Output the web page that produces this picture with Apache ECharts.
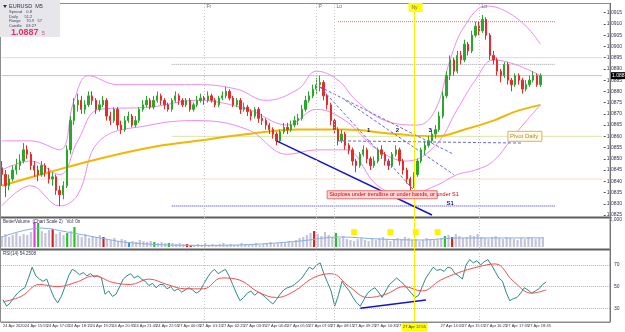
<!DOCTYPE html>
<html>
<head>
<meta charset="utf-8">
<script src="https://cdn.jsdelivr.net/npm/echarts@6/dist/echarts.min.js"></script>
<style>
  html, body { margin: 0; padding: 0; background: #fff; }
  #chart { width: 625px; height: 332px; }
</style>
</head>
<body>
<div id="chart"></div>
<script>
// ---- data (EURUSD M5) ----
var timeLabels = ['24 Apr 2020', '24 Apr 15:55', '24 Apr 17:05', '24 Apr 18:15', '24 Apr 19:25',
  '24 Apr 20:35', '24 Apr 21:45', '24 Apr 22:55', '27 Apr 00:05', '27 Apr 01:15', '27 Apr 02:25',
  '27 Apr 03:35', '27 Apr 04:45', '27 Apr 05:55', '27 Apr 07:05', '27 Apr 08:15', '27 Apr 09:25',
  '27 Apr 10:35', '27 Apr 11:45', '27 Apr 12:55', '27 Apr 14:05', '27 Apr 15:15', '27 Apr 16:25',
  '27 Apr 17:35', '27 Apr 18:45'];
var nyLabel = '27 Apr 12:55';
var labelEvery = 6;          // bars between time labels
var slotCount = 167;         // bars that fit the window (incl. right shift)

// [open, close, low, high]
var candles = [
  [1.0846,1.0843,1.0838,1.0849],[1.0843,1.0838,1.0833,1.0845],[1.0838,1.0841,1.0836,1.0843],[1.0841,1.0845,1.0840,1.0847],
  [1.0845,1.0847,1.0843,1.0850],[1.0847,1.0849,1.0845,1.0852],[1.0849,1.0854,1.0848,1.0857],[1.0854,1.0852,1.0850,1.0856],
  [1.0852,1.0847,1.0845,1.0853],[1.0847,1.0845,1.0842,1.0849],[1.0845,1.0843,1.0840,1.0847],[1.0843,1.0847,1.0842,1.0849],
  [1.0847,1.0844,1.0842,1.0848],[1.0844,1.0841,1.0839,1.0846],[1.0841,1.0842,1.0838,1.0844],[1.0842,1.0836,1.0834,1.0843],
  [1.0836,1.0834,1.0829,1.0838],[1.0834,1.0838,1.0832,1.0840],[1.0838,1.0854,1.0837,1.0856],[1.0854,1.0867,1.0852,1.0869],
  [1.0867,1.0874,1.0865,1.0877],[1.0874,1.0876,1.0871,1.0879],[1.0876,1.0872,1.0870,1.0878],[1.0872,1.0874,1.0870,1.0876],
  [1.0874,1.0878,1.0873,1.0880],[1.0878,1.0876,1.0874,1.0880],[1.0876,1.0872,1.0870,1.0877],[1.0872,1.0874,1.0871,1.0876],
  [1.0874,1.0876,1.0873,1.0878],[1.0876,1.0869,1.0867,1.0877],[1.0869,1.0867,1.0865,1.0871],[1.0867,1.0872,1.0866,1.0873],
  [1.0872,1.0865,1.0863,1.0873],[1.0865,1.0863,1.0861,1.0867],[1.0863,1.0867,1.0862,1.0869],[1.0867,1.0869,1.0866,1.0871],
  [1.0869,1.0865,1.0864,1.0870],[1.0865,1.0867,1.0864,1.0869],[1.0867,1.0872,1.0866,1.0873],[1.0872,1.0874,1.0871,1.0876],
  [1.0874,1.0876,1.0873,1.0878],[1.0876,1.0873,1.0872,1.0877],[1.0873,1.0876,1.0872,1.0878],[1.0876,1.0878,1.0875,1.0880],
  [1.0878,1.0876,1.0874,1.0879],[1.0876,1.0874,1.0872,1.0877],[1.0874,1.0872,1.0871,1.0875],[1.0872,1.0876,1.0871,1.0877],
  [1.0876,1.0878,1.0875,1.0880],[1.0878,1.0876,1.0874,1.0879],[1.0876,1.0874,1.0873,1.0877],[1.0874,1.0876,1.0873,1.0877],
  [1.0876,1.0872,1.0871,1.0877],[1.0872,1.0874,1.0871,1.0875],[1.0874,1.0876,1.0873,1.0878],[1.0876,1.0877,1.0875,1.0879],
  [1.0877,1.0876,1.0874,1.0878],[1.0876,1.0878,1.0875,1.0880],[1.0878,1.0876,1.0875,1.0879],[1.0876,1.0874,1.0873,1.0877],
  [1.0874,1.0877,1.0873,1.0878],[1.0877,1.0878,1.0876,1.0880],[1.0878,1.0880,1.0877,1.0882],[1.0880,1.0877,1.0876,1.0881],
  [1.0877,1.0874,1.0873,1.0878],[1.0874,1.0876,1.0873,1.0877],[1.0876,1.0872,1.0870,1.0877],[1.0872,1.0873,1.0871,1.0875],
  [1.0873,1.0871,1.0869,1.0874],[1.0871,1.0869,1.0867,1.0872],[1.0869,1.0872,1.0868,1.0873],[1.0872,1.0868,1.0866,1.0873],
  [1.0868,1.0867,1.0865,1.0870],[1.0867,1.0865,1.0863,1.0868],[1.0865,1.0863,1.0861,1.0866],[1.0863,1.0861,1.0859,1.0864],
  [1.0861,1.0858,1.0856,1.0862],[1.0858,1.0862,1.0857,1.0863],[1.0862,1.0864,1.0861,1.0866],[1.0864,1.0863,1.0861,1.0866],
  [1.0863,1.0865,1.0862,1.0867],[1.0865,1.0867,1.0864,1.0869],[1.0867,1.0868,1.0865,1.0870],[1.0868,1.0872,1.0867,1.0874],
  [1.0872,1.0876,1.0871,1.0878],[1.0876,1.0878,1.0875,1.0880],[1.0878,1.0881,1.0877,1.0883],[1.0881,1.0883,1.0879,1.0886],
  [1.0883,1.0884,1.0880,1.0887],[1.0884,1.0878,1.0876,1.0885],[1.0878,1.0874,1.0872,1.0879],[1.0874,1.0867,1.0865,1.0875],
  [1.0867,1.0863,1.0861,1.0868],[1.0863,1.0858,1.0856,1.0864],[1.0858,1.0861,1.0857,1.0863],[1.0861,1.0856,1.0854,1.0862],
  [1.0856,1.0854,1.0852,1.0857],[1.0854,1.0849,1.0847,1.0855],[1.0849,1.0847,1.0844,1.0850],[1.0847,1.0852,1.0846,1.0853],
  [1.0852,1.0854,1.0851,1.0856],[1.0854,1.0850,1.0848,1.0855],[1.0850,1.0847,1.0845,1.0851],[1.0847,1.0849,1.0846,1.0851],
  [1.0849,1.0854,1.0848,1.0855],[1.0854,1.0852,1.0850,1.0856],[1.0852,1.0849,1.0847,1.0853],[1.0849,1.0847,1.0845,1.0850],
  [1.0847,1.0852,1.0846,1.0853],[1.0852,1.0854,1.0851,1.0856],[1.0854,1.0849,1.0847,1.0855],[1.0849,1.0845,1.0843,1.0850],
  [1.0845,1.0841,1.0839,1.0846],[1.0841,1.0838,1.0836,1.0842],[1.0838,1.0843,1.0837,1.0844],[1.0843,1.0849,1.0842,1.0850],
  [1.0849,1.0854,1.0848,1.0855],[1.0854,1.0856,1.0852,1.0858],[1.0856,1.0858,1.0855,1.0860],[1.0858,1.0861,1.0857,1.0863],
  [1.0861,1.0863,1.0859,1.0865],[1.0863,1.0869,1.0862,1.0871],[1.0869,1.0878,1.0868,1.0880],[1.0878,1.0887,1.0877,1.0889],
  [1.0887,1.0894,1.0885,1.0896],[1.0894,1.0889,1.0887,1.0895],[1.0889,1.0896,1.0888,1.0898],[1.0896,1.0894,1.0892,1.0898],
  [1.0894,1.0901,1.0893,1.0903],[1.0901,1.0898,1.0896,1.0902],[1.0898,1.0905,1.0897,1.0907],[1.0905,1.0909,1.0904,1.0911],
  [1.0909,1.0907,1.0905,1.0911],[1.0907,1.0912,1.0906,1.0914],[1.0912,1.0905,1.0903,1.0913],[1.0905,1.0896,1.0894,1.0906],
  [1.0896,1.0894,1.0892,1.0898],[1.0894,1.0889,1.0887,1.0895],[1.0889,1.0887,1.0884,1.0890],[1.0887,1.0892,1.0886,1.0893],
  [1.0892,1.0885,1.0883,1.0893],[1.0885,1.0883,1.0880,1.0886],[1.0883,1.0887,1.0882,1.0888],[1.0887,1.0885,1.0883,1.0888],
  [1.0885,1.0881,1.0879,1.0886],[1.0881,1.0883,1.0880,1.0885],[1.0883,1.0885,1.0882,1.0887],[1.0885,1.0887,1.0884,1.0889],
  [1.0887,1.0883,1.0882,1.0888],[1.0883,1.0887,1.0882,1.0888]
];

// moving average + bollinger bands, read at sample bars [bar, price]
var maLine = [[0,1.0838],[13,1.0844],[27,1.0850],[41,1.0855],[54,1.0858],[68,1.0861],[82,1.0863],
  [95,1.0863],[109,1.0861],[120,1.0860],[128,1.0863],[136,1.0867],[142,1.0871],[149,1.0874]];
var bbUpper = [[0,1.0858],[8,1.0858],[16,1.0854],[20,1.0876],[24,1.0887],[32,1.0883],[41,1.0883],
  [54,1.0883],[65,1.0881],[73,1.0876],[82,1.0881],[87,1.0889],[93,1.0885],[98,1.0876],[106,1.0867],
  [115,1.0865],[120,1.0872],[124,1.0894],[128,1.0909],[134,1.0918],[139,1.0916],[145,1.0909],[149,1.0901]];
var bbMid = [[0,1.0845],[8,1.0849],[16,1.0843],[21,1.0858],[27,1.0872],[41,1.0873],[54,1.0876],
  [68,1.0872],[79,1.0865],[87,1.0872],[95,1.0867],[104,1.0854],[112,1.0849],[120,1.0856],[126,1.0872],
  [131,1.0885],[136,1.0894],[142,1.0892],[149,1.0887]];
var bbLower = [[0,1.0829],[8,1.0838],[16,1.0829],[21,1.0834],[27,1.0858],[41,1.0865],[54,1.0867],
  [68,1.0863],[79,1.0852],[87,1.0854],[95,1.0854],[104,1.0838],[112,1.0834],[120,1.0838],[126,1.0843],
  [131,1.0845],[136,1.0849],[142,1.0861],[149,1.0874]];

var volumes = [810,960,740,890,1040,810,960,890,1110,1850,1780,1180,1040,1260,1330,960,1110,890,1040,1180,
  1480,890,740,960,670,810,740,890,740,590,520,670,440,590,520,370,440,370,520,440,
  370,440,370,300,370,300,300,300,220,300,220,220,150,150,220,150,300,150,220,150,
  220,300,150,220,150,150,300,220,150,220,300,150,220,300,370,220,300,370,300,440,
  370,520,670,740,890,1040,1180,960,810,1110,890,740,1040,670,810,590,520,440,590,670,
  520,440,590,520,670,740,590,440,520,670,590,740,670,520,590,440,520,670,590,520,
  590,670,810,890,740,960,810,670,740,890,810,960,740,670,590,740,810,670,590,740,
  670,590,520,670,590,740,670,590,670,740];
var volFlags = { 9: 'climax', 10: 'up', 14: 'down', 18: 'up', 20: 'up', 28: 'down', 35: 'low',
  42: 'up', 46: 'up', 51: 'down', 52: 'down', 86: 'down', 92: 'up', 122: 'up', 124: 'down' };
var volAverage = [[0,740],[11,1400],[18,1110],[27,670],[36,300],[54,120],[68,180],[82,440],[93,740],
  [104,590],[115,520],[126,670],[136,670],[149,680]];
var volMarks = [97, 107, 114, 120];

var rsi = [38,32,35,40,44,47,49,58,68,60, 57,55,57,48,40,35,41,50,60,66,
  64,61,63,60,62,59,60,58,43,46, 41,43,50,57,60,62,58,60,57,55,
  51,53,49,52,52,48,50,46,48,45, 47,49,47,44,46,52,58,63,66,62,
  64,66,60,52,44,37,40,44,46,42, 45,43,40,37,34,38,43,47,49,50,
  52,55,58,63,68,66,70,72,62,54, 46,32,42,55,50,46,40,35,32,38,
  44,47,49,45,40,46,52,55,58,55, 52,48,44,40,42,50,58,63,68,65,
  66,64,68,67,62,60,57,70,75,72, 74,70,73,75,70,64,58,55,45,37,
  39,40,44,49,47,44,46,48,52,54.2508];
var rsiSignal = [[0,36],[5,41],[10,52],[15,50],[20,54],[25,60],[30,54],[35,52],[40,57],[45,52],[50,48],
  [55,48],[60,58],[65,56],[70,45],[75,40],[80,46],[85,58],[90,62],[95,50],[100,40],[105,43],[110,50],
  [115,46],[120,56],[125,63],[130,68],[135,71],[140,55],[145,44],[149,47]];
var rsiTrend = [[98,30],[116,37.6]];

// drawn objects on the price pane
var lastPrice = 1.0887;
var levelR2 = { from: 93, to: 153, price: 1.0911 };
var levelR1 = { from: 47, to: 153, price: 1.0892 };
var levelPivot = { from: 47, to: 166, price: 1.0860 };
var levelS1 = { from: 47, to: 153, price: 1.0829 };
var levelFaintHi = 1.0895;
var levelFaintLo = 1.0841;
var trendMain = [[76,1.0858],[119,1.0825]];
var fanA = [[88,1.0882],[114,1.0836]];
var fanB = [[88,1.0882],[125,1.0852]];
var fanC = [[95,1.0876],[125,1.0843]];
var fanFlat = [[93,1.0858],[144,1.0857]];
var waveMarks = [{ bar: 101, price: 1.0862, text: '1' }, { bar: 109, price: 1.0862, text: '2' }, { bar: 118, price: 1.0862, text: '3' }];
var sessions = [{ bar: 56, text: 'Fr' }, { bar: 87, text: 'P' }, { bar: 92, text: 'Lo' }, { bar: 132, text: 'Lo' }];
var nyBar = 114;

var FONT = '"Liberation Sans", Arial, sans-serif';
var NARROW = '"Liberation Sans Narrow", "Liberation Sans", sans-serif';
var cats = [];
for (var i = 0; i < slotCount; i++) cats.push(String(i));

function levelLine(price, from, to) {
    return [[from, price], [to, price]];
}

function segment(points, color, width, type, z) {
    return {
        type: 'line', xAxisIndex: 0, yAxisIndex: 0, data: points, symbol: 'none', silent: true,
        clip: false, z: z || 3,
        lineStyle: { color: color, width: width, type: type || 'solid' }
    };
}

var volColor = { climax: '#e23de2', up: '#22c422', down: '#d81c1c', low: '#3a8ee6' };

var option = {
    animation: false,
    backgroundColor: '#ffffff',
    grid: [
        { left: 0, top: 12.7, width: 610, height: 202.3 },
        { left: 0, top: 220, width: 610, height: 27 },
        { left: 0, top: 265, width: 610, height: 43.3 }
    ],
    xAxis: [
        { type: 'category', gridIndex: 0, data: cats, show: false },
        { type: 'category', gridIndex: 1, data: cats, show: false },
        {
            type: 'category', gridIndex: 2, data: cats, offset: 13.7,
            axisLine: { lineStyle: { color: '#8c8c8c' } },
            axisTick: { interval: labelEvery - 1, length: 2, lineStyle: { color: '#555' } },
            axisLabel: {
                interval: labelEvery - 1, align: 'left', margin: 2, fontSize: 4,
                fontFamily: NARROW, color: '#303040',
                formatter: function (v, idx) {
                    if (idx === nyBar) return '';
                    return timeLabels[idx / labelEvery] || '';
                }
            }
        }
    ],
    yAxis: [
        {
            type: 'value', gridIndex: 0, position: 'right', min: 1.0825, max: 1.0915, interval: 0.0005,
            axisLine: { show: false }, splitLine: { show: false },
            axisTick: { show: true, length: 2, lineStyle: { color: '#555' } },
            axisLabel: { fontSize: 5, fontFamily: FONT, color: '#303050', margin: 3,
                formatter: function (v) { return v.toFixed(4); } }
        },
        {
            type: 'value', gridIndex: 1, position: 'right', min: 0, max: 2000, interval: 2000,
            axisLine: { show: false }, splitLine: { show: false }, axisTick: { show: false },
            axisLabel: { fontSize: 5, fontFamily: FONT, color: '#303050', margin: 3, showMinLabel: false }
        },
        {
            type: 'value', gridIndex: 2, position: 'right', min: 30, max: 70, interval: 20,
            axisLine: { show: false }, axisTick: { show: false },
            splitLine: { lineStyle: { color: '#b4b4b4', type: 'dotted' } },
            axisLabel: { fontSize: 5, fontFamily: FONT, color: '#303050', margin: 4 }
        }
    ],
    series: [
        segment(levelLine(levelFaintHi, 0, 166), '#d6dcf2', 1, 'solid', 1),
        segment(levelLine(levelFaintLo, 0, 166), '#f4dcc0', 1, 'solid', 1),
        segment(levelLine(levelPivot.price, levelPivot.from, levelPivot.to), '#d8e6a6', 1, 'solid', 1),
        segment(levelLine(lastPrice, 0, 166), '#c4c4c4', 1, 'solid', 1),
        segment(levelLine(levelR2.price, levelR2.from, levelR2.to), '#e07070', 1, 'dotted', 2),
        segment(levelLine(levelR1.price, levelR1.from, levelR1.to), '#a0a0a8', 1, 'dotted', 2),
        segment(levelLine(levelS1.price, levelS1.from, levelS1.to), '#3030c8', 1, 'dotted', 2),
        { type: 'line', xAxisIndex: 0, yAxisIndex: 0, data: bbUpper, smooth: 0.4, symbol: 'none', clip: false,
          lineStyle: { color: '#ec8cec', width: 1 }, z: 2 },
        { type: 'line', xAxisIndex: 0, yAxisIndex: 0, data: bbMid, smooth: 0.4, symbol: 'none', clip: false,
          lineStyle: { color: '#ec8cec', width: 1 }, z: 2 },
        { type: 'line', xAxisIndex: 0, yAxisIndex: 0, data: bbLower, smooth: 0.4, symbol: 'none', clip: false,
          lineStyle: { color: '#ec8cec', width: 1 }, z: 2 },
        { type: 'line', xAxisIndex: 0, yAxisIndex: 0, data: maLine, smooth: 0.4, symbol: 'none', clip: false,
          lineStyle: { color: '#f2b705', width: 2 }, z: 3 },
        {
            type: 'candlestick', xAxisIndex: 0, yAxisIndex: 0, data: candles, barWidth: '50%', z: 4,
            itemStyle: { color: '#2aa82a', color0: '#e82a2a', borderColor: '#2aa82a', borderColor0: '#e82a2a', borderWidth: 1 }
        },
        segment(trendMain, '#1414d2', 1.5, 'solid', 5),
        segment(fanA, '#6a6ad8', 1, [3, 2], 5),
        segment(fanB, '#6a6ad8', 1, [3, 2], 5),
        segment(fanC, '#6a6ad8', 1, [3, 2], 5),
        segment(fanFlat, '#6a6ad8', 1, [3, 2], 5),
        {
            type: 'bar', xAxisIndex: 1, yAxisIndex: 1, barWidth: '60%', silent: true,
            data: volumes.map(function (v, i) {
                var f = volFlags[i];
                return { value: v, itemStyle: { color: f ? volColor[f] : '#c3c3dc' } };
            })
        },
        { type: 'line', xAxisIndex: 1, yAxisIndex: 1, data: volAverage, smooth: 0.4, symbol: 'none',
          lineStyle: { color: '#86aee0', width: 1 }, z: 3 },
        { type: 'line', xAxisIndex: 2, yAxisIndex: 2, data: rsi, symbol: 'none', clip: false,
          lineStyle: { color: '#2e8a86', width: 1 }, z: 3 },
        { type: 'line', xAxisIndex: 2, yAxisIndex: 2, data: rsiSignal, smooth: 0.4, symbol: 'none', clip: false,
          lineStyle: { color: '#f25050', width: 1 }, z: 3 },
        { type: 'line', xAxisIndex: 2, yAxisIndex: 2, data: rsiTrend, symbol: 'none', clip: false,
          lineStyle: { color: '#1414d2', width: 1.5 }, z: 4 }
    ]
};

var chart = echarts.init(document.getElementById('chart'));
chart.setOption(option);

// ---- overlay: frame, session markers, text objects (placed through the axes) ----
function P(grid, a, b) { return chart.convertToPixel({ gridIndex: grid }, [a, b]); }
function txt(x, y, s, size, color, extra) {
    var st = { text: s, x: x, y: y, fill: color,
        font: (extra && extra.bold ? 'bold ' : '') + size + 'px ' + ((extra && extra.family) || FONT) };
    if (extra && extra.align) st.align = extra.align;
    return { type: 'text', style: st, z: 60, silent: true };
}
function rect(x, y, w, h, fill, stroke) {
    return { type: 'rect', shape: { x: x, y: y, width: w, height: h }, style: { fill: fill, stroke: stroke || null, lineWidth: 1 }, z: 55, silent: true };
}
function line(x1, y1, x2, y2, color, width, dash) {
    return { type: 'line', shape: { x1: x1, y1: y1, x2: x2, y2: y2 }, style: { stroke: color, lineWidth: width, lineDash: dash || null }, z: 40, silent: true };
}

var g = [];
// pane frame
g.push({ type: 'rect', shape: { x: 0.5, y: 3.5, width: 609.5, height: 318.5 }, style: { fill: 'none', stroke: '#8c8c8c', lineWidth: 1 }, z: 50, silent: true });
g.push(line(0, 217.5, 610, 217.5, '#5e5e5e', 2));
g.push(line(0, 249.5, 610, 249.5, '#5e5e5e', 2));
g.push(line(610.5, 3, 610.5, 322, '#5e5e5e', 1));

// session markers
sessions.forEach(function (s) {
    var x = Math.round(P(0, s.bar, 1.087)[0]) + 0.5;
    g.push(line(x, 4, x, 321, '#c6c6c6', 1, [1, 2]));
    g.push(txt(x + 2, 4, s.text, 5, '#6a6a80'));
});
var nyX = Math.round(P(0, nyBar, 1.087)[0]) + 0.5;
g.push(line(nyX, 4, nyX, 321, '#f4f000', 1));
g.push(rect(nyX - 6, 3, 14, 9, '#ffff00'));
g.push(txt(nyX - 3, 5, 'Ny', 5, '#6a6a80'));
// time tag of the NY line, centred on it over the axis
g.push(rect(nyX - 13, 323, 26, 8, '#ffff00'));
g.push(txt(nyX, 325, nyLabel, 4, '#303040', { align: 'center', family: NARROW }));

// current price tag on the axis
var lpY = P(0, 0, lastPrice)[1];
g.push(rect(611, lpY - 3.5, 14, 7, '#000000'));
g.push(txt(612, lpY - 2.5, lastPrice.toFixed(4), 5, '#ffffff'));

// pivot tag
var pv = P(0, 140, levelPivot.price);
g.push(rect(pv[0], pv[1] - 5, 34, 10, '#fffbe4', '#d4b46a'));
g.push(txt(pv[0] + 2, pv[1] - 3, 'Pivot Daily', 6, '#a58a4a'));

// wave numbers and S1
waveMarks.forEach(function (w) {
    var p = P(0, w.bar, w.price);
    g.push(txt(p[0], p[1] - 4, w.text, 6, '#101060', { bold: true }));
});
var s1 = P(0, 123, levelS1.price);
g.push(txt(s1[0], s1[1] - 6, 'S1', 6, '#1a1a80', { bold: true }));

// stoploss note
var sl = P(0, 90, 1.0834);
g.push(rect(sl[0], sl[1] - 4, 110, 8, '#ffd6d6', '#e07070'));
g.push(txt(sl[0] + 2, sl[1] - 3, 'Stoploss under trendline or under bands, or under S1', 5.5, '#d00000'));

// markers in the volume pane
volMarks.forEach(function (b) {
    var p = P(1, b, 1100);
    g.push(rect(p[0] - 3, p[1] - 3, 6, 6, '#fff200'));
});

// pane captions
g.push(txt(3, 219, 'BetterVolume  (Chart Scale 2)   Vol: 0n', 4.5, '#303050'));
g.push(txt(3, 251, 'RSI(14) ' + rsi[rsi.length - 1].toFixed(4), 4.5, '#303050'));

// info panel, top left
g.push(rect(0, 0, 60, 37, '#e7e7eb'));
g.push({ type: 'polygon', shape: { points: [[3, 5], [7, 5], [5, 8]] }, style: { fill: '#303050' }, z: 60, silent: true });
g.push(txt(9, 3, 'EURUSD  M5', 5.5, '#303050'));
g.push(txt(9, 10, 'Spread    0.8', 4, '#404060'));
g.push(txt(9, 14.5, 'Daily      51.2', 4, '#404060'));
g.push(txt(9, 19, 'Range     70.9   57', 4, '#404060'));
g.push(txt(9, 23.5, 'Candle    03:27', 4, '#404060'));
g.push(txt(11, 28, lastPrice.toFixed(4), 9, '#e8306a', { bold: true }));
g.push(txt(42, 31, '5', 5, '#e8306a'));

chart.setOption({ graphic: { elements: g } });
</script>
</body>
</html>
